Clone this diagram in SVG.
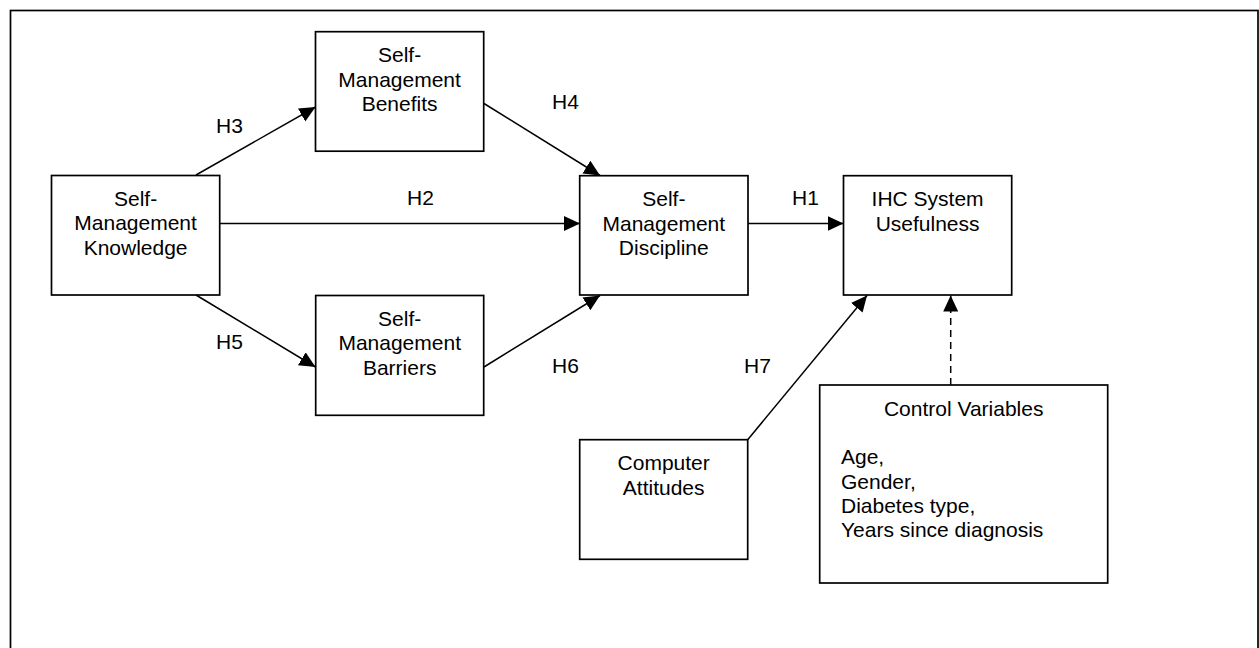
<svg xmlns="http://www.w3.org/2000/svg" width="1259" height="648" viewBox="0 0 1259 648">
<style>
.box{fill:#fff;stroke:#000;stroke-width:1.7}
.frame{fill:none;stroke:#000;stroke-width:1.7}
.lbl{font-family:"Liberation Sans",Arial,sans-serif;font-size:21px;fill:#000}
.c{text-anchor:middle}
.edge{stroke:#000;stroke-width:1.5;fill:none}
.dash{stroke-dasharray:7 5}
</style>
<defs>
<marker id="arr" markerUnits="userSpaceOnUse" markerWidth="18" markerHeight="18" refX="16" refY="7.5" orient="auto">
<path d="M0,0 L16,7.5 L0,15 Z" fill="#000"/>
</marker>
</defs>
<rect class="frame" x="10.5" y="10.5" width="1247.5" height="700"/>
<g id="connectors">
<line class="edge" x1="196" y1="175" x2="315.5" y2="107" marker-end="url(#arr)"/>
<line class="edge" x1="220" y1="223.5" x2="580" y2="223.5" marker-end="url(#arr)"/>
<line class="edge" x1="484" y1="103.5" x2="600" y2="175.5" marker-end="url(#arr)"/>
<line class="edge" x1="196" y1="295" x2="315.5" y2="367" marker-end="url(#arr)"/>
<line class="edge" x1="484" y1="367" x2="600" y2="295.5" marker-end="url(#arr)"/>
<line class="edge" x1="748" y1="223.5" x2="843.5" y2="223.5" marker-end="url(#arr)"/>
<line class="edge" x1="747.7" y1="439.7" x2="867" y2="295.5" marker-end="url(#arr)"/>
<line class="edge dash" x1="950.7" y1="385" x2="950.7" y2="295.5" marker-end="url(#arr)"/>
<text class="lbl" x="216" y="133">H3</text>
<text class="lbl" x="407" y="205">H2</text>
<text class="lbl" x="552" y="109">H4</text>
<text class="lbl" x="792" y="205">H1</text>
<text class="lbl" x="216" y="349">H5</text>
<text class="lbl" x="552" y="373">H6</text>
<text class="lbl" x="744" y="373">H7</text>
</g>
<g id="knowledge">
<rect class="box" x="51.5" y="175.5" width="168.2" height="119.5"/>
<text class="lbl c" x="135.6" y="205.5">Self-</text>
<text class="lbl c" x="135.6" y="230">Management</text>
<text class="lbl c" x="135.6" y="254.5">Knowledge</text>
</g>
<g id="benefits">
<rect class="box" x="315.5" y="31.7" width="168.2" height="119.5"/>
<text class="lbl c" x="399.6" y="62">Self-</text>
<text class="lbl c" x="399.6" y="86.5">Management</text>
<text class="lbl c" x="399.6" y="111">Benefits</text>
</g>
<g id="barriers">
<rect class="box" x="315.7" y="295.5" width="168" height="119.8"/>
<text class="lbl c" x="399.7" y="325.7">Self-</text>
<text class="lbl c" x="399.7" y="350.2">Management</text>
<text class="lbl c" x="399.7" y="374.7">Barriers</text>
</g>
<g id="discipline">
<rect class="box" x="579.7" y="175.7" width="168.3" height="119.3"/>
<text class="lbl c" x="663.8" y="206">Self-</text>
<text class="lbl c" x="663.8" y="230.5">Management</text>
<text class="lbl c" x="663.8" y="255">Discipline</text>
</g>
<g id="ihc">
<rect class="box" x="843.5" y="175.7" width="168.2" height="119.3"/>
<text class="lbl c" x="927.6" y="206">IHC System</text>
<text class="lbl c" x="927.6" y="230.5">Usefulness</text>
</g>
<g id="computer">
<rect class="box" x="579.7" y="439.7" width="168" height="119.6"/>
<text class="lbl c" x="663.7" y="470">Computer</text>
<text class="lbl c" x="663.7" y="494.5">Attitudes</text>
</g>
<g id="control">
<rect class="box" x="819.7" y="385" width="288" height="198"/>
<text class="lbl c" x="963.7" y="415.7">Control Variables</text>
<text class="lbl" x="841" y="464">Age,</text>
<text class="lbl" x="841" y="488.5">Gender,</text>
<text class="lbl" x="841" y="513">Diabetes type,</text>
<text class="lbl" x="841" y="537">Years since diagnosis</text>
</g>
</svg>
